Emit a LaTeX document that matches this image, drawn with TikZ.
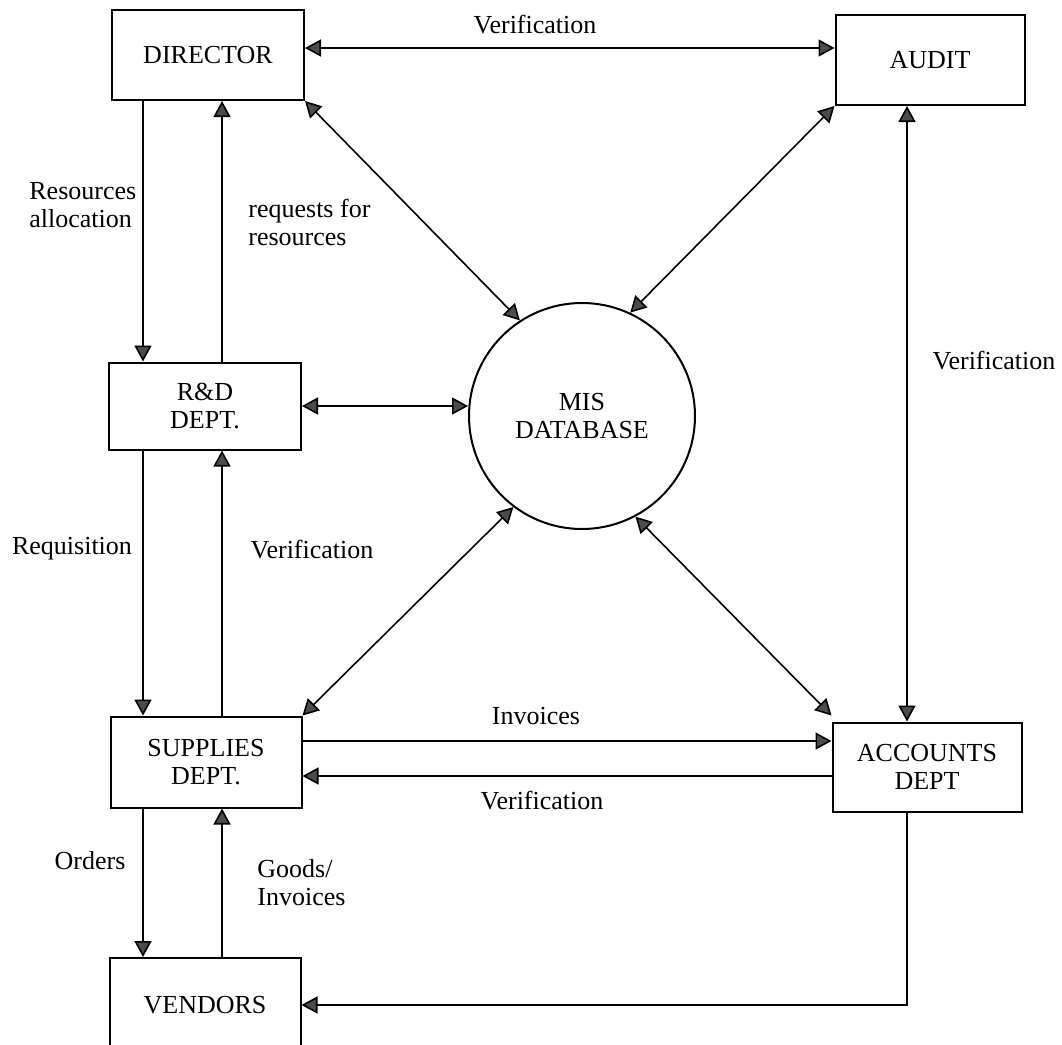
\documentclass[tikz,border=0pt]{standalone}
\usepackage{fontspec}
\setmainfont{Liberation Serif}
\usetikzlibrary{arrows.meta}

\begin{document}
\begin{tikzpicture}[x=0.5pt,y=-0.5pt,
    font=\fontsize{13pt}{14pt}\selectfont,
    box/.style={draw=black, line width=1pt, align=center, inner sep=0pt},
    lbl/.style={align=left, inner sep=0pt},
    flow/.style={line width=0.8pt, -{Triangle[length=8pt,width=8.5pt,fill=black!70]}},
    both/.style={line width=0.8pt, {Triangle[length=8pt,width=8.5pt,fill=black!70]}-{Triangle[length=8pt,width=8.5pt,fill=black!70]}}]
    \useasboundingbox (0,0) rectangle (1062,1045);

    % boxes and the database
    \node[box, minimum width=96pt, minimum height=45pt] (director) at (208,55) {DIRECTOR};
    \node[box, minimum width=94.5pt, minimum height=45pt] (audit) at (930,60) {AUDIT};
    \node[box, minimum width=96pt, minimum height=43.5pt] (rnd) at (205,406) {R\&D\\DEPT.};
    \node[box, circle, minimum size=113pt] (mis) at (582,416) {MIS\\DATABASE};
    \node[box, minimum width=95.5pt, minimum height=45.5pt] (supplies) at (206,762) {SUPPLIES\\DEPT.};
    \node[box, minimum width=94.5pt, minimum height=44.5pt] (accounts) at (927,767) {ACCOUNTS\\DEPT};
    \node[box, minimum width=95.5pt, minimum height=47pt] (vendors) at (205,1005) {VENDORS};

    % columns and rows of the straight flows
    \coordinate (colA) at (143,0);
    \coordinate (colB) at (222,0);
    \coordinate (colC) at (907,0);
    \coordinate (rowT) at (0,48);
    \coordinate (rowI) at (0,741);
    \coordinate (rowV) at (0,776);

    \draw[both] (director.east |- rowT) -- (audit.west |- rowT);
    \draw[flow] (director.south -| colA) -- (rnd.north -| colA);
    \draw[flow] (rnd.north -| colB) -- (director.south -| colB);
    \draw[flow] (rnd.south -| colA) -- (supplies.north -| colA);
    \draw[flow] (supplies.north -| colB) -- (rnd.south -| colB);
    \draw[flow] (supplies.south -| colA) -- (vendors.north -| colA);
    \draw[flow] (vendors.north -| colB) -- (supplies.south -| colB);
    \draw[both] (audit.south -| colC) -- (accounts.north -| colC);
    \draw[flow] (accounts.south -| colC) |- (vendors.east);
    \draw[flow] (supplies.east |- rowI) -- (accounts.west |- rowI);
    \draw[flow] (accounts.west |- rowV) -- (supplies.east |- rowV);

    % to and from the database
    \draw[both] (rnd.east) -- (rnd.east -| mis.west);
    \draw[both] (director.south east) -- (mis.123);
    \draw[both] (audit.south west) -- (mis.65);
    \draw[both] (supplies.north east) -- (mis.233);
    \draw[both] ([yshift=3pt]accounts.north west) -- (mis.298);

    % labels
    \node[lbl] (verTop) at (535,25) {Verification};
    \node[lbl, anchor=west] (resAlloc) at (29,205) {Resources\\allocation};
    \node[lbl, anchor=west] (reqRes) at (248,222) {requests for\\resources};
    \node[lbl] (verRight) at (994,361) {Verification};
    \node[lbl] (requis) at (72,549) {Requisition};
    \node[lbl] (verMid) at (312,550) {Verification};
    \node[lbl] (invoices) at (536,716) {Invoices};
    \node[lbl] (verBot) at (542,801) {Verification};
    \node[lbl] (orders) at (90,861) {Orders};
    \node[lbl, anchor=west] (goods) at (257,883) {Goods/\\Invoices};
\end{tikzpicture}
\end{document}
